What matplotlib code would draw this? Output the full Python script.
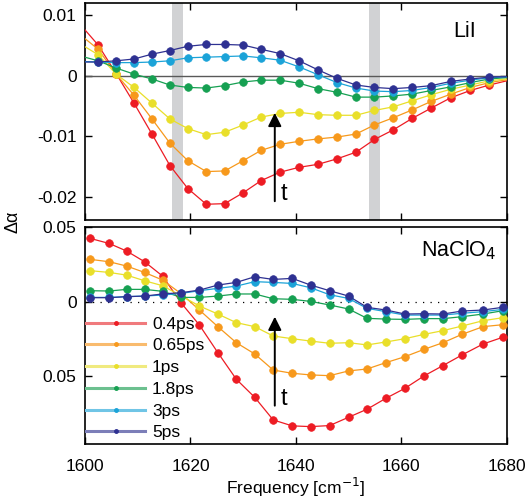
import numpy as np
import matplotlib
matplotlib.use('Agg')
import matplotlib.pyplot as plt
from matplotlib.lines import Line2D

plt.rcParams['font.family'] = ['Liberation Sans', 'DejaVu Sans']
plt.rcParams['axes.unicode_minus'] = False

labels = ['0.4ps', '0.65ps', '1ps', '1.8ps', '3ps', '5ps']
colors = ['#ed1c24', '#f7991c', '#e9df2a', '#16a052', '#1ba3d8', '#2e3192']
legend_colors = ['#f07a7d', '#f9bb6e', '#f0ea7f', '#6cc08f', '#70c5e6', '#7c7eb8']

# LiI panel (top)
freq_lii = [1599.1, 1602.5, 1605.9, 1609.3, 1612.7, 1616.1, 1619.5, 1623.0, 1626.5,
            1630.0, 1633.4, 1637.0, 1640.6, 1644.2, 1647.8, 1651.4, 1654.9, 1658.5,
            1662.1, 1665.7, 1669.4, 1673.1, 1676.7, 1681.0]
lii_04 = [0.0085, 0.0051, 0.0004, -0.0045, -0.0096, -0.0148, -0.0186, -0.0212, -0.0211,
          -0.0193, -0.0173, -0.0159, -0.0151, -0.0146, -0.0137, -0.0126, -0.0105, -0.0089,
          -0.0070, -0.0053, -0.0036, -0.0024, -0.0015, -0.0006]
lii_065 = [0.0068, 0.0044, 0.0003, -0.0032, -0.0071, -0.0111, -0.0140, -0.0158, -0.0157,
           -0.0140, -0.0123, -0.0113, -0.0108, -0.0104, -0.0101, -0.0096, -0.0081, -0.0069,
           -0.0056, -0.0042, -0.0030, -0.0019, -0.0011, -0.0005]
lii_1 = [0.0053, 0.0035, 0.0003, -0.0019, -0.0045, -0.0071, -0.0087, -0.0097, -0.0093,
         -0.0081, -0.0068, -0.0062, -0.0060, -0.0064, -0.0065, -0.0065, -0.0057, -0.0051,
         -0.0041, -0.0031, -0.0022, -0.0015, -0.0008, -0.0004]
lii_18 = [0.0033, 0.0025, 0.0013, 0.0003, -0.0005, -0.0015, -0.0019, -0.0020, -0.0016,
          -0.0010, -0.0007, -0.0007, -0.0012, -0.0021, -0.0027, -0.0035, -0.0035, -0.0033,
          -0.0030, -0.0024, -0.0018, -0.0011, -0.0005, -0.0002]
lii_3 = [0.0024, 0.0023, 0.0022, 0.0022, 0.0023, 0.0025, 0.0030, 0.0031, 0.0032,
         0.0033, 0.0030, 0.0026, 0.0015, 0.0002, -0.0011, -0.0020, -0.0025, -0.0026,
         -0.0024, -0.0019, -0.0012, -0.0007, -0.0003, -0.0001]
lii_5 = [0.0023, 0.0023, 0.0025, 0.0028, 0.0036, 0.0042, 0.0049, 0.0052, 0.0052,
         0.0051, 0.0044, 0.0037, 0.0025, 0.0010, -0.0004, -0.0015, -0.0019, -0.0021,
         -0.0019, -0.0016, -0.0009, -0.0005, -0.0002, -0.0001]

# NaClO4 panel (bottom)
freq_na = [1601.0, 1604.6, 1607.9, 1611.3, 1614.7, 1618.3, 1621.7, 1625.2, 1628.7,
           1632.2, 1635.7, 1639.3, 1642.8, 1646.4, 1650.0, 1653.5, 1657.1, 1660.7,
           1664.3, 1667.9, 1671.5, 1675.5, 1679.2]
na_04 = [0.0426, 0.0392, 0.0341, 0.0269, 0.0173, -0.0011, -0.0157, -0.0343, -0.0522,
         -0.0644, -0.0796, -0.0836, -0.0841, -0.0834, -0.0778, -0.0724, -0.0650, -0.0583,
         -0.0500, -0.0430, -0.0359, -0.0285, -0.0240]
na_065 = [0.0285, 0.0269, 0.0240, 0.0197, 0.0146, 0.0052, -0.0056, -0.0168, -0.0276,
          -0.0352, -0.0460, -0.0482, -0.0493, -0.0498, -0.0466, -0.0453, -0.0410, -0.0370,
          -0.0321, -0.0276, -0.0220, -0.0168, -0.0155]
na_1 = [0.0209, 0.0197, 0.0179, 0.0141, 0.0108, 0.0038, -0.0029, -0.0083, -0.0141,
        -0.0168, -0.0231, -0.0249, -0.0265, -0.0280, -0.0276, -0.0291, -0.0271, -0.0249,
        -0.0220, -0.0195, -0.0164, -0.0128, -0.0108]
na_18 = [0.0074, 0.0072, 0.0083, 0.0083, 0.0070, 0.0029, 0.0029, 0.0038, 0.0052,
         0.0052, 0.0020, 0.0016, 0.0002, -0.0022, -0.0049, -0.0112, -0.0117, -0.0119,
         -0.0114, -0.0114, -0.0101, -0.0083, -0.0061]
na_3 = [0.0029, 0.0029, 0.0034, 0.0038, 0.0045, 0.0056, 0.0074, 0.0090, 0.0105,
        0.0135, 0.0130, 0.0123, 0.0094, 0.0047, 0.0022, -0.0045, -0.0067, -0.0090,
        -0.0090, -0.0090, -0.0078, -0.0067, -0.0052]
na_5 = [0.0027, 0.0027, 0.0034, 0.0038, 0.0052, 0.0061, 0.0078, 0.0112, 0.0130,
        0.0168, 0.0150, 0.0157, 0.0112, 0.0074, 0.0038, -0.0038, -0.0056, -0.0083,
        -0.0081, -0.0083, -0.0063, -0.0056, -0.0038]

gray_bands = [(1616.5, 1618.5), (1653.9, 1656.0)]
arrow_lii = (1636.0, -0.0207, -0.0061)
arrow_na = (1636.0, -0.070, -0.0101)

fig = plt.figure(figsize=(5.29, 5.01), dpi=100)
ax1 = fig.add_axes([0.1607, 0.5609, 0.7972, 0.4325])
ax2 = fig.add_axes([0.1607, 0.1138, 0.7972, 0.4337])

for a, b in gray_bands:
    ax1.axvspan(a, b, color='#d1d2d4', lw=0, zorder=1)
ax1.axhline(0, color='0.35', lw=1.0, zorder=2)
ax2.axhline(0, color='k', lw=0.9, ls=(0, (1, 5)), zorder=2)

for ys, c in zip([lii_04, lii_065, lii_1, lii_18, lii_3, lii_5], colors):
    ax1.plot(freq_lii, ys, '-o', color=c, lw=0.9, ms=5.5, mec=c, mew=0.5, zorder=3)
for ys, c in zip([na_04, na_065, na_1, na_18, na_3, na_5], colors):
    ax2.plot(freq_na, ys, '-o', color=c, lw=0.9, ms=5.5, mec=c, mew=0.5, zorder=3)

for ax, (x0, y0, y1) in [(ax1, arrow_lii), (ax2, arrow_na)]:
    ax.annotate('', xy=(x0, y1), xytext=(x0, y0),
                arrowprops=dict(arrowstyle='-|>', color='k', lw=1.4,
                                mutation_scale=20, shrinkA=0, shrinkB=0), zorder=5)
    ax.text(x0 + 1.2, y0 + (y1 - y0) * 0.08, 't', fontsize=17, ha='left', va='center')

ax1.set_xlim(1600, 1680)
ax1.set_ylim(-0.0238, 0.012)
ax1.set_yticks([0.01, 0, -0.01, -0.02])
ax1.set_yticklabels(['0.01', '0', '-0.01', '-0.02'])
ax1.set_xticks([1600, 1620, 1640, 1660, 1680])
ax1.set_xticklabels([])
ax1.text(0.9, 0.87, 'LiI', transform=ax1.transAxes, fontsize=15.5, ha='center', va='center')

ax2.set_xlim(1600, 1680)
ax2.set_ylim(-0.0958, 0.0505)
ax2.set_yticks([0.05, 0, -0.05])
ax2.set_yticklabels(['0.05', '0', '0.05'])
ax2.set_xticks([1600, 1620, 1640, 1660, 1680])
ax2.text(0.885, 0.89, 'NaClO$_4$', transform=ax2.transAxes, fontsize=15.5, ha='center', va='center')
ax2.set_xlabel('Frequency [cm$^{-1}$]', fontsize=12.5, labelpad=1)

for ax in (ax1, ax2):
    ax.tick_params(direction='in', top=True, right=True, length=5, width=1, labelsize=12.5)
    ax.tick_params(axis='x', pad=11)
    ax.tick_params(axis='y', pad=6)
    for s in ax.spines.values():
        s.set_linewidth(1.2)

fig.text(0.025, 1 - 222 / 501, 'Δα', rotation=90, fontsize=13, ha='center', va='center')

handles = [Line2D([0], [0], color=lc, lw=2.2, marker='.', ms=5, mfc=c, mec=c)
           for lc, c in zip(legend_colors, colors)]
ax2.legend(handles, labels, loc='upper left', bbox_to_anchor=(0.0024, 0.587),
           frameon=False, fontsize=12.5, handlelength=3.4, handletextpad=0.4,
           labelspacing=0.38, borderpad=0, borderaxespad=0)

fig.savefig('out.png', dpi=100)
